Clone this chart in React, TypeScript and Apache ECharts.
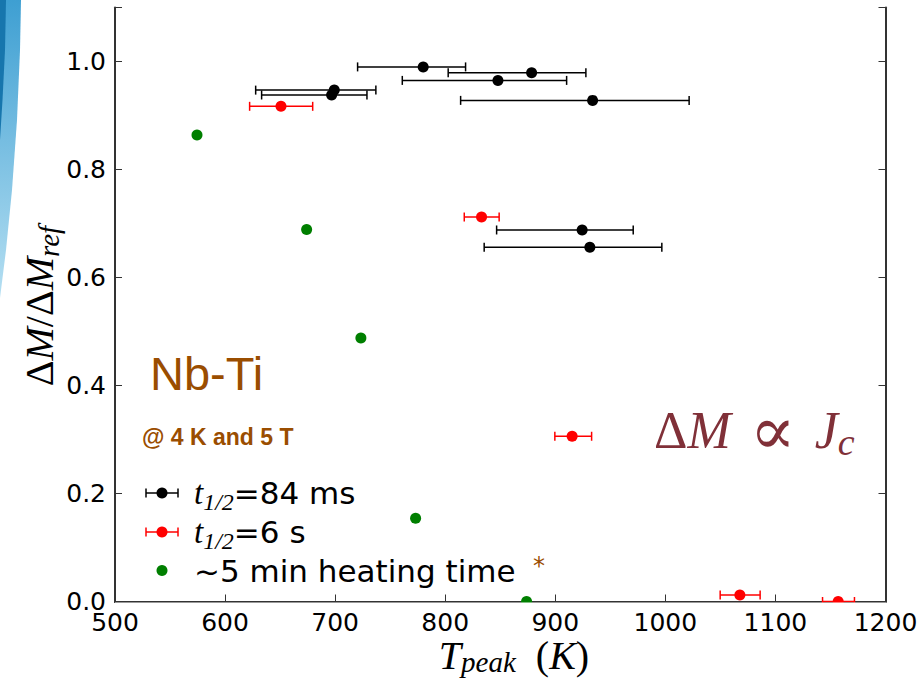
import React, { useEffect, useRef } from "react";
import * as echarts from "echarts";

// ---- data ----
const blackT = [780.0, 878.5, 847.9, 699.2, 696.8, 933.9, 924.4, 931.4];
const blackY = [0.99, 0.979, 0.965, 0.947, 0.938, 0.928, 0.688, 0.656];
const blackLo = [720.4, 802.7, 761.0, 627.8, 633.2, 814.0, 846.7, 835.4];
const blackHi = [818.5, 927.8, 910.3, 737.0, 728.9, 1021.6, 970.8, 996.8];

const redT = [650.8, 833.0, 915.3, 1067.7, 1157.0];
const redY = [0.917, 0.712, 0.306, 0.012, 0.0];
const redLo = [622.3, 817.3, 899.6, 1049.8, 1142.8];
const redHi = [679.6, 849.0, 933.0, 1086.1, 1171.8];

const greenT = [574.5, 674.1, 723.4, 773.1, 873.9];
const greenY = [0.864, 0.689, 0.488, 0.154, 0.0];

const seriesNames = ["t1/2=84 ms", "t1/2=6 s", "~5 min heating time"];

const X_MIN = 500;
const X_MAX = 1200;
const X_STEP = 100;
const Y_MIN = 0;
const Y_MAX = 1.1;
const Y_STEP = 0.2;

const SERIF = "'Liberation Serif', 'DejaVu Serif', serif";
const SANS = "'DejaVu Sans', sans-serif";
const ARIAL = "'Liberation Sans', Arial, sans-serif";
const BROWN = "#9a4d00";
const MAROON = "#803038";

function errorBarSeries(name: string, color: string, t: number[], y: number[], lo: number[], hi: number[]) {
  return {
    type: "custom",
    name: name + " err",
    z: 2,
    data: t.map((v, i) => [v, y[i], lo[i], hi[i]]),
    encode: { x: [0, 2, 3], y: 1 },
    renderItem: (params: any, api: any) => {
      const yy = api.value(1);
      const p1 = api.coord([api.value(2), yy]);
      const p2 = api.coord([api.value(3), yy]);
      const h = 4.5;
      const style = { stroke: color, lineWidth: 1.5 };
      return {
        type: "group",
        children: [
          { type: "line", shape: { x1: p1[0], y1: p1[1], x2: p2[0], y2: p2[1] }, style },
          { type: "line", shape: { x1: p1[0], y1: p1[1] - h, x2: p1[0], y2: p1[1] + h }, style },
          { type: "line", shape: { x1: p2[0], y1: p2[1] - h, x2: p2[0], y2: p2[1] + h }, style },
        ],
      };
    },
  };
}

function legendRow(y: number, color: string, withBar: boolean, text: string, rich: any) {
  const children: any[] = [];
  const style = { stroke: color, lineWidth: 1.5 };
  if (withBar) {
    children.push({ type: "line", shape: { x1: 146, y1: y, x2: 178, y2: y }, style });
    children.push({ type: "line", shape: { x1: 146, y1: y - 4.5, x2: 146, y2: y + 4.5 }, style });
    children.push({ type: "line", shape: { x1: 178, y1: y - 4.5, x2: 178, y2: y + 4.5 }, style });
  }
  children.push({ type: "circle", shape: { cx: 162, cy: y, r: 5.5 }, style: { fill: color } });
  children.push({
    type: "text",
    x: 194,
    y: y,
    style: { text, rich, fill: "#000", verticalAlign: "middle", align: "left" },
  });
  return { type: "group", children };
}

export default function App() {
  const ref = useRef<HTMLDivElement>(null);
  useEffect(() => {
    if (!ref.current) return;
    const chart = echarts.init(ref.current, undefined, { renderer: "svg" });

    const axisLine = { show: true, lineStyle: { color: "#333333", width: 2 } };
    const axisTick = { show: true, inside: true, length: 7, lineStyle: { color: "#333333", width: 1 } };

    const legendRich = {
      t: { fontFamily: SERIF, fontStyle: "italic", fontSize: 33, fill: "#000" },
      s: { fontFamily: SERIF, fontStyle: "italic", fontSize: 24, fill: "#000", padding: [18, 0, 0, 0] },
      n: { fontFamily: SANS, fontSize: 31, fill: "#000" },
    };

    const option: any = {
      animation: false,
      backgroundColor: "#ffffff",
      grid: { left: 115, right: 35.5, top: 7.5, bottom: 77.5, containLabel: false },
      xAxis: [
        {
          type: "value",
          min: X_MIN,
          max: X_MAX,
          interval: X_STEP,
          position: "bottom",
          axisLine,
          axisTick,
          splitLine: { show: false },
          axisLabel: {
            color: "#000",
            fontFamily: SANS,
            fontSize: 25,
            margin: 8,
            formatter: (v: number) => String(Math.round(v)),
          },
        },
        {
          type: "value",
          min: X_MIN,
          max: X_MAX,
          interval: X_STEP,
          position: "top",
          axisLine,
          axisTick,
          splitLine: { show: false },
          axisLabel: { show: false },
        },
      ],
      yAxis: [
        {
          type: "value",
          min: Y_MIN,
          max: Y_MAX,
          interval: Y_STEP,
          position: "left",
          axisLine,
          axisTick,
          splitLine: { show: false },
          axisLabel: {
            color: "#000",
            fontFamily: SANS,
            fontSize: 25,
            margin: 9,
            formatter: (v: number) =>
              Math.abs(v / Y_STEP - Math.round(v / Y_STEP)) < 1e-6 ? v.toFixed(1) : "",
          },
        },
        {
          type: "value",
          min: Y_MIN,
          max: Y_MAX,
          interval: Y_STEP,
          position: "right",
          axisLine,
          axisTick,
          splitLine: { show: false },
          axisLabel: { show: false },
        },
      ],
      series: [
        errorBarSeries(seriesNames[0], "#000000", blackT, blackY, blackLo, blackHi),
        errorBarSeries(seriesNames[1], "#ff0000", redT, redY, redLo, redHi),
        {
          type: "scatter",
          name: seriesNames[0],
          z: 3,
          symbol: "circle",
          symbolSize: 11,
          itemStyle: { color: "#000000", opacity: 1 },
          data: blackT.map((v, i) => [v, blackY[i]]),
        },
        {
          type: "scatter",
          name: seriesNames[1],
          z: 3,
          symbol: "circle",
          symbolSize: 11,
          itemStyle: { color: "#ff0000", opacity: 1 },
          data: redT.map((v, i) => [v, redY[i]]),
        },
        {
          type: "scatter",
          name: seriesNames[2],
          z: 3,
          symbol: "circle",
          symbolSize: 11,
          itemStyle: { color: "#007f00", opacity: 1 },
          data: greenT.map((v, i) => [v, greenY[i]]),
        },
      ],
      graphic: [
        // mask below the bottom axis so markers are clipped at the axes like the original
        { type: "rect", z: 4, silent: true, shape: { x: 115, y: 602.6, width: 771, height: 8 }, style: { fill: "#fff" } },
        // decorative blue swoosh at the left page edge
        {
          type: "polygon",
          z: 1,
          silent: true,
          shape: { points: [[0, 0], [21, 0], [20, 50], [17, 120], [12, 190], [6, 250], [0, 298]] },
          style: {
            fill: new echarts.graphic.LinearGradient(0, 0, 0, 1, [
              { offset: 0, color: "#3e9fd2" },
              { offset: 1, color: "#b5dff2" },
            ]),
          },
        },
        {
          type: "polygon",
          z: 1,
          silent: true,
          shape: { points: [[0, 0], [6, 0], [5, 50], [2.5, 100], [0, 140]] },
          style: { fill: "#1776ad" },
        },
        // y axis title
        {
          type: "text",
          z: 5,
          x: 39,
          y: 306,
          rotation: Math.PI / 2,
          style: {
            text: "{d|Δ}{m|M}{d|/Δ}{m|M}{s|ref}",
            align: "center",
            verticalAlign: "middle",
            rich: {
              d: { fontFamily: SERIF, fontSize: 40, fill: "#000" },
              m: { fontFamily: SERIF, fontStyle: "italic", fontSize: 40, fill: "#000" },
              s: { fontFamily: SERIF, fontStyle: "italic", fontSize: 29, fill: "#000", padding: [20, 0, 0, 0] },
            },
          },
        },
        // x axis title
        {
          type: "text",
          z: 5,
          x: 514,
          y: 655,
          style: {
            text: "{m|T}{s|peak}{d|  (}{m|K}{d|)}",
            align: "center",
            verticalAlign: "middle",
            rich: {
              d: { fontFamily: SERIF, fontSize: 40, fill: "#000", lineHeight: 36 },
              m: { fontFamily: SERIF, fontStyle: "italic", fontSize: 40, fill: "#000", lineHeight: 36 },
              s: { fontFamily: SERIF, fontStyle: "italic", fontSize: 29, fill: "#000", lineHeight: 36, padding: [14, 0, 0, 0] },
            },
          },
        },
        // annotations
        {
          type: "text",
          z: 5,
          x: 150,
          y: 373,
          style: { text: "Nb-Ti", fill: BROWN, fontFamily: ARIAL, fontSize: 47, verticalAlign: "middle" },
        },
        {
          type: "text",
          z: 5,
          x: 142,
          y: 437,
          style: { text: "@ 4 K and 5 T", fill: BROWN, fontFamily: ARIAL, fontWeight: "bold", fontSize: 23, verticalAlign: "middle" },
        },
        {
          type: "text",
          z: 5,
          x: 654,
          y: 430,
          style: {
            text: "{d|Δ}{m|M}{g| }{p|∝}{g| }{m|J}{s|c}",
            verticalAlign: "middle",
            rich: {
              d: { fontFamily: SERIF, fontSize: 52, fill: MAROON, lineHeight: 56 },
              m: { fontFamily: SERIF, fontStyle: "italic", fontSize: 52, fill: MAROON, lineHeight: 56 },
              g: { fontFamily: SERIF, fontSize: 52, fill: MAROON, lineHeight: 56, padding: [0, 3, 0, 3] },
              p: { fontFamily: "'DejaVu Serif', serif", fontSize: 68, fill: MAROON, lineHeight: 56 },
              s: { fontFamily: SERIF, fontStyle: "italic", fontSize: 38, fill: MAROON, lineHeight: 56, padding: [24, 0, 0, 0] },
            },
          },
        },
        {
          type: "text",
          z: 5,
          x: 539,
          y: 566,
          style: { text: "*", fill: BROWN, fontFamily: SANS, fontSize: 24, align: "center", verticalAlign: "middle" },
        },
        // legend
        legendRow(493, "#000000", true, "{t|t}{s|1/2}{n|=84 ms}", legendRich),
        legendRow(532, "#ff0000", true, "{t|t}{s|1/2}{n|=6 s}", legendRich),
        legendRow(570.5, "#007f00", false, "{n|~5 min heating time}", legendRich),
      ],
    };

    chart.setOption(option);
    return () => chart.dispose();
  }, []);

  return (
    <div
      ref={ref}
      style={{ position: "fixed", left: 0, top: 0, width: 921, height: 679, background: "#fff" }}
    />
  );
}
